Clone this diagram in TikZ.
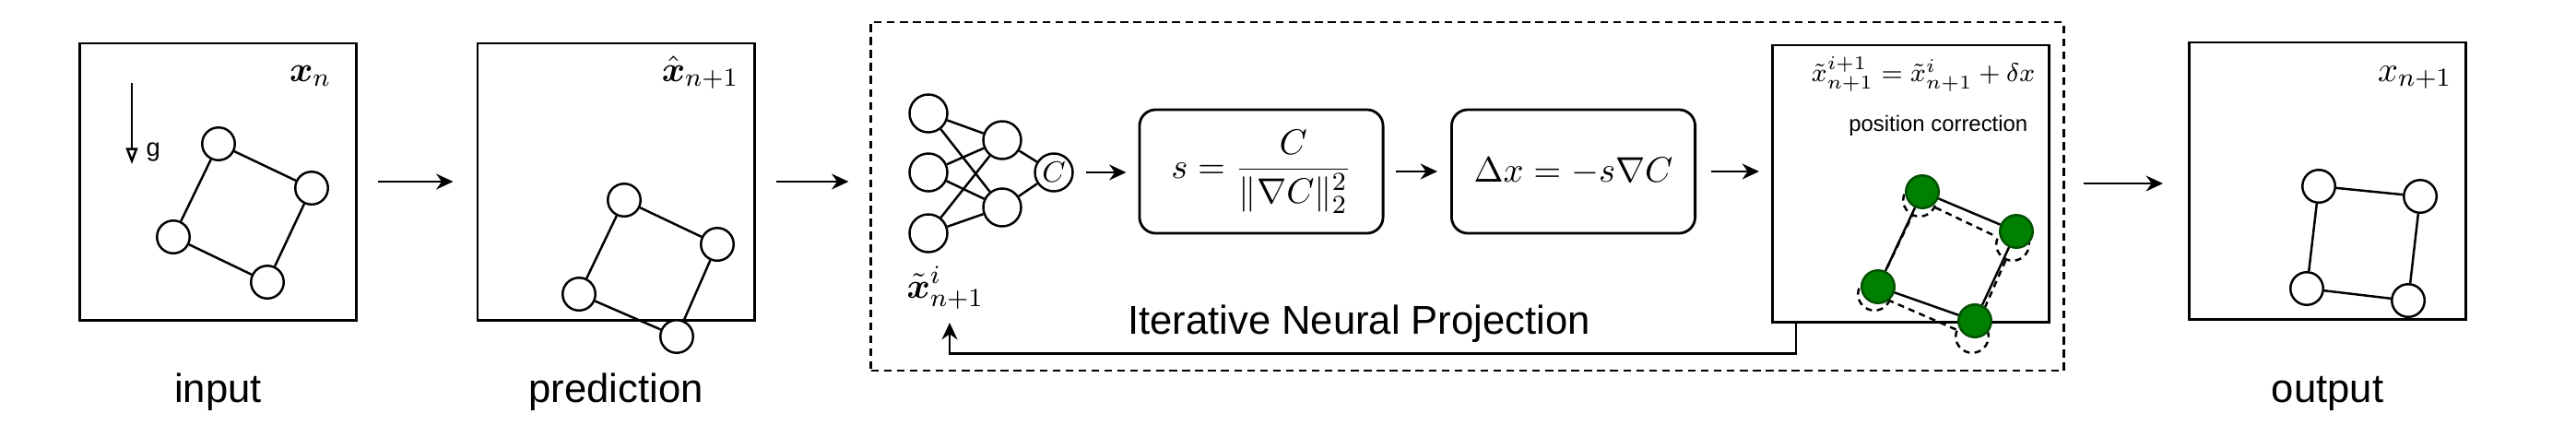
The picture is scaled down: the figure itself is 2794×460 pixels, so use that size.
\documentclass[tikz,border=0pt]{standalone}
\usepackage{amsmath}
\usepackage{fontspec}
\setsansfont{Liberation Sans}
\usetikzlibrary{arrows.meta}
\definecolor{verde}{RGB}{0,128,0}
\definecolor{verdeosc}{RGB}{0,80,0}

\tikzset{
  caja/.style={draw, line width=0.8pt, minimum width=3cm, minimum height=3cm, inner sep=0pt},
  cajared/.style={draw, rounded corners=5pt, line width=0.8pt, minimum width=2.64cm, minimum height=1.34cm, inner sep=0pt},
  bola/.style={circle, draw, line width=0.7pt, minimum size=0.355cm, inner sep=0pt, fill=white},
  bolav/.style={bola, fill=verde, draw=verdeosc},
  bolad/.style={bola, fill=none, dash pattern=on 2pt off 1.5pt},
  neur/.style={circle, draw, line width=0.7pt, minimum size=0.41cm, inner sep=0pt},
  flecha/.style={-{Stealth[length=5.2pt,width=4.8pt]}, line width=0.8pt},
  etiq/.style={font=\sffamily\fontsize{12.4}{14}\selectfont, anchor=base},
  mat/.style={font=\fontsize{10.8}{13}\selectfont, inner sep=0pt},
}

\begin{document}
\begin{tikzpicture}[x=0.01cm, y=-0.01cm]
        \useasboundingbox (0,0) rectangle (2794,460);

        % Caja de proyeccion
        \node[draw, line width=0.7pt, dash pattern=on 2.4pt off 1.6pt, minimum width=12.93cm, minimum height=3.78cm, inner sep=0pt] (inp) at (1591.5,213) {};
        \node[etiq] (tinp) at (1474,362) {Iterative Neural Projection};

        % Cajas
        \node[caja] (entrada) at (236.5,197) {};
        \node[caja] (pred) at (668,197) {};
        \node[caja] (corr) at (2072.5,199) {};
        \node[caja] (salida) at (2524.5,196) {};
        \node[cajared] (sbox) at (1368,186) {\fontsize{10.8}{13}\selectfont$s=\dfrac{C}{\|\nabla C\|_2^2}$};
        \node[cajared] (dbox) at (1706.5,186) {\fontsize{10.8}{13}\selectfont$\Delta x=-s\nabla C$};

        % Etiquetas
        \node[mat, anchor=base east] (lxn) at (360,88) {$\boldsymbol{x}_n$};
        \node[mat, anchor=base east] (lxp) at (802,88) {$\hat{\boldsymbol{x}}_{n+1}$};
        \node[mat, font=\fontsize{8.5}{10}\selectfont, anchor=base east] (lxc) at (2208,88) {$\tilde{x}^{i+1}_{n+1}=\tilde{x}^{i}_{n+1}+\delta x$};
        \node[mat, anchor=base east] (lxs) at (2660,88) {$x_{n+1}$};
        \node[mat, anchor=base west] (lxt) at (983,323) {$\tilde{\boldsymbol{x}}^{i}_{n+1}$};
        \node[font=\sffamily\fontsize{6.8}{8}\selectfont, anchor=base east, inner sep=0pt] (tpc) at (2200,142) {position correction};
        \node[etiq] (tin) at (236.5,436) {input};
        \node[etiq] (tpr) at (668,436) {prediction};
        \node[etiq] (tout) at (2524.5,436) {output};

        % Gravedad
        \coordinate (g0) at (143,90);
        \coordinate (g1) at (143,178);
        \draw[-{Triangle[open,length=5pt,width=3.6pt]}, line width=0.7pt] (g0) -- (g1);
        \node[font=\sffamily\fontsize{7.8}{9}\selectfont, anchor=base west, inner sep=0pt] (tg) at (158,169) {g};

        % Cuerpo inicial
        \node[bola] (a1) at (237,156) {};
        \node[bola] (a2) at (338,204) {};
        \node[bola] (a3) at (290,306) {};
        \node[bola] (a4) at (188,257) {};
        \draw[line width=0.7pt] (a1) -- (a2) -- (a3) -- (a4) -- (a1);

        % Prediccion
        \node[bola] (b1) at (677,217) {};
        \node[bola] (b2) at (778,265) {};
        \node[bola] (b3) at (734,365) {};
        \node[bola] (b4) at (628,319) {};
        \draw[line width=0.7pt] (b1) -- (b2) -- (b3) -- (b4) -- (b1);

        % Correccion
        \node[bolad] (d1) at (2082,217) {};
        \node[bolad] (d2) at (2183,265) {};
        \node[bolad] (d3) at (2139,365) {};
        \node[bolad] (d4) at (2033,319) {};
        \draw[line width=0.7pt, dash pattern=on 2pt off 1.5pt] (d1) -- (d2) -- (d3) -- (d4) -- (d1);
        \node[bolav] (v1) at (2085,208) {};
        \node[bolav] (v2) at (2187,251) {};
        \node[bolav] (v3) at (2142,348) {};
        \node[bolav] (v4) at (2037,311) {};
        \draw[line width=0.7pt] (v1) -- (v2) -- (v3) -- (v4) -- (v1);

        % Salida
        \node[bola] (c1) at (2515,202) {};
        \node[bola] (c2) at (2625,213) {};
        \node[bola] (c3) at (2612,326) {};
        \node[bola] (c4) at (2502,313) {};
        \draw[line width=0.7pt] (c1) -- (c2) -- (c3) -- (c4) -- (c1);

        % Red neuronal
        \foreach \i/\y in {1/123, 2/187, 3/253} {
            \node[neur] (in\i) at (1007,\y) {};
        }
        \node[neur] (h1) at (1087,152) {};
        \node[neur] (h2) at (1087,225) {};
        \node[neur] (nc) at (1143,187) {\fontsize{9}{11}\selectfont$C$};
        \foreach \i in {1,2,3} {
            \draw[line width=0.7pt] (in\i) -- (h1);
            \draw[line width=0.7pt] (in\i) -- (h2);
        }
        \draw[line width=0.7pt] (h1) -- (nc);
        \draw[line width=0.7pt] (h2) -- (nc);

        % Flechas
        \draw[flecha, shorten <=0.22cm, shorten >=0.25cm] (entrada) -- (pred);
        \draw[flecha, shorten <=0.22cm, shorten >=0.23cm] (pred.east) -- (pred.east -| inp.west);
        \draw[flecha, shorten <=0.13cm, shorten >=0.13cm] (nc.east) -- (nc.east -| sbox.west);
        \draw[flecha, shorten <=0.12cm, shorten >=0.14cm] (sbox) -- (dbox);
        \draw[flecha, shorten <=0.16cm, shorten >=0.13cm] (dbox.east) -- (dbox.east -| corr.west);
        \draw[flecha, shorten <=0.36cm, shorten >=0.27cm] (corr.east) -- (corr.east -| salida.west);

        % Iteracion
        \coordinate (fb) at (1030,350);
        \draw[flecha] ([xshift=0.27cm]corr.south west) -- ++(0,33) -| (fb);
    \end{tikzpicture}
\end{document}
